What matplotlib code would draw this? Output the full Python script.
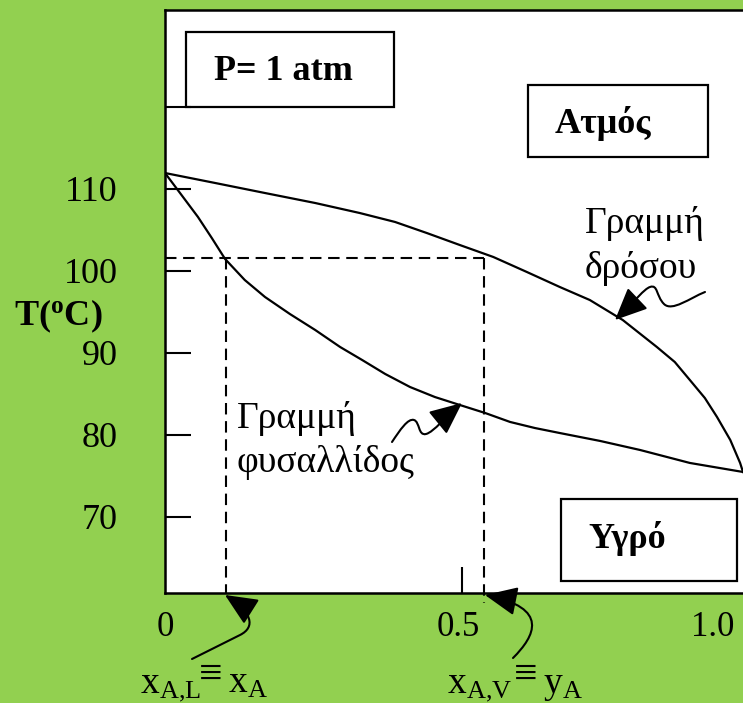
import matplotlib
matplotlib.use("Agg")
import matplotlib.pyplot as plt
from matplotlib.patches import Rectangle, FancyArrowPatch
from matplotlib.path import Path
from matplotlib.transforms import Affine2D

#dew and bubble curves, mole fraction of A vs T (C), P = 1 atm
x_dew = [0.000, 0.087, 0.173, 0.260, 0.337, 0.398, 0.453, 0.510, 0.568, 0.626, 0.683,
         0.735, 0.792, 0.851, 0.882, 0.908, 0.934, 0.955, 0.978, 0.995, 1.000]
t_dew = [111.95, 110.73, 109.51, 108.29, 107.07, 105.98, 104.63, 103.17, 101.71, 99.88, 98.05,
         96.46, 94.02, 90.73, 88.90, 86.71, 84.51, 82.20, 79.39, 76.59, 75.49]

x_bub = [0.000, 0.026, 0.057, 0.081, 0.104, 0.138, 0.173, 0.216, 0.260, 0.303, 0.341, 0.381,
         0.424, 0.467, 0.510, 0.554, 0.597, 0.640, 0.683, 0.753, 0.822, 0.908, 1.000]
t_bub = [111.95, 109.51, 106.59, 104.02, 101.46, 98.90, 96.83, 94.76, 92.80, 90.73, 89.15, 87.44,
         85.85, 84.63, 83.66, 82.68, 81.59, 80.85, 80.24, 79.27, 78.17, 76.59, 75.49]

#operating point: tie line at T_op
t_op = 101.6
x_liq = 0.105
y_vap = 0.552

yticks = [70, 80, 90, 100, 110, 120]
ylabels = ["70", "80", "90", "100", "110", ""]
xtick_pos = [0.0, 0.507, 0.948]
xtick_lab = ["0", "0.5", "1.0"]

#_____________________________________________________________________________
def main():

    plt.rcParams["font.family"] = ["Liberation Serif", "DejaVu Serif"]
    plt.rcParams["mathtext.fontset"] = "custom"
    plt.rcParams["mathtext.rm"] = "Liberation Serif"
    plt.rcParams["mathtext.it"] = "Liberation Serif:italic"
    plt.rcParams["mathtext.bf"] = "Liberation Serif:bold"

    W, H = 743., 703.
    fig = plt.figure(figsize=(W/100, H/100), dpi=100, facecolor="#92d050")

    #image pixel coordinates, origin top left
    px = Affine2D().scale(1/W, -1/H).translate(0, 1) + fig.transFigure

    ax = fig.add_axes([165/W, 1-593/H, 580/W, 583/H])
    ax.set_facecolor("white")
    ax.set_xlim(0, 580/578.)
    ax.set_ylim(60.73, 131.83)

    for s in ["left", "bottom", "top"]:
        ax.spines[s].set_linewidth(1.8)
    ax.spines["right"].set_visible(False)

    ax.plot(x_dew, t_dew, "-", color="black", lw=1.6)
    ax.plot(x_bub, t_bub, "-", color="black", lw=1.6)

    #tie line and the two compositions
    dash = dict(color="black", lw=1.5, ls=(0, (5.5, 3.2)))
    ax.plot([0, y_vap], [t_op, t_op], **dash)
    ax.plot([x_liq, x_liq], [t_op, 60.73], **dash)
    ax.plot([y_vap, y_vap], [t_op, 59.5], clip_on=False, **dash)

    ax.set_yticks(yticks)
    ax.set_yticklabels(ylabels)
    ax.tick_params(axis="y", direction="in", length=19, width=1.5, pad=34, labelsize=26)

    ax.set_xticks(xtick_pos)
    ax.set_xticklabels(xtick_lab)
    ax.set_xticks([0.514], minor=True)
    ax.tick_params(axis="x", which="major", length=0, pad=13, labelsize=25)
    ax.tick_params(axis="x", which="minor", direction="in", length=19, width=1.5)

    fig.text(58, 316, r"$\mathbf{T(^{o}C)}$", transform=px, fontsize=26,
             ha="center", va="center")

    #labelled boxes
    boxes = [
        ((186, 32, 208, 75), "P= 1 atm", (283, 80)),
        ((528, 85, 180, 72), "Ατμός", (603, 133)),
        ((561, 499, 176, 82), "Υγρό", (627, 548)),
    ]
    for (bx, by, bw, bh), txt, (tx, ty) in boxes:
        fig.patches.append(Rectangle((bx, by), bw, bh, transform=px, fill=False,
                                     lw=1.6, ec="black", zorder=5))
        fig.text(tx, ty, txt, transform=px, fontsize=26, fontweight="bold",
                 ha="center", va="baseline", zorder=6)

    #curve names
    for txt, tx, ty in [("Γραμμή", 585, 233), ("δρόσου", 585, 278),
                        ("Γραμμή", 237, 428), ("φυσαλλίδος", 237, 472)]:
        fig.text(tx, ty, txt, transform=px, fontsize=27, ha="left", va="baseline")

    #compositions under the axis
    for sym, x0, xe, x1 in [(r"$\mathrm{x_{A{,}L}}$", 140, 199, r"$\mathrm{x_A}$"),
                            (r"$\mathrm{x_{A{,}V}}$", 447, 514, r"$\mathrm{y_A}$")]:
        fig.text(x0, 693, sym, transform=px, fontsize=27, ha="left", va="baseline")
        fig.text(xe, 686, "≡", transform=px, fontsize=30, ha="left", va="baseline")
        fig.text(xe + 29, 693, x1, transform=px, fontsize=27, ha="left", va="baseline")

    #pointer arrows
    M, L, C = Path.MOVETO, Path.LINETO, Path.CURVE4
    arrows = [
        ([(705, 292), (690, 298), (672, 312), (664, 304),
          (656, 296), (658, 284), (650, 287),
          (644, 289), (636, 300), (615, 320)], [M, C, C, C, C, C, C, C, C, C]),
        ([(392, 442), (400, 430), (408, 418), (414, 420),
          (420, 422), (418, 436), (426, 434),
          (434, 432), (446, 416), (462, 403)], [M, C, C, C, C, C, C, C, C, C]),
        ([(192, 659), (240, 635), (256, 627), (252, 612), (225, 595)], [M, L, C, C, C]),
        ([(513, 658), (535, 636), (550, 608), (485, 595)], [M, C, C, C]),
    ]
    for verts, codes in arrows:
        arr = FancyArrowPatch(path=Path(verts, codes), transform=px,
                              arrowstyle="-|>,head_length=1.0,head_width=0.45",
                              mutation_scale=20, lw=1.5, color="black",
                              shrinkA=0, shrinkB=0, zorder=7)
        fig.patches.append(arr)

    fig.savefig("out.png", dpi=100, facecolor=fig.get_facecolor())
    plt.close()

#main

#_____________________________________________________________________________
if __name__ == "__main__":

    main()
